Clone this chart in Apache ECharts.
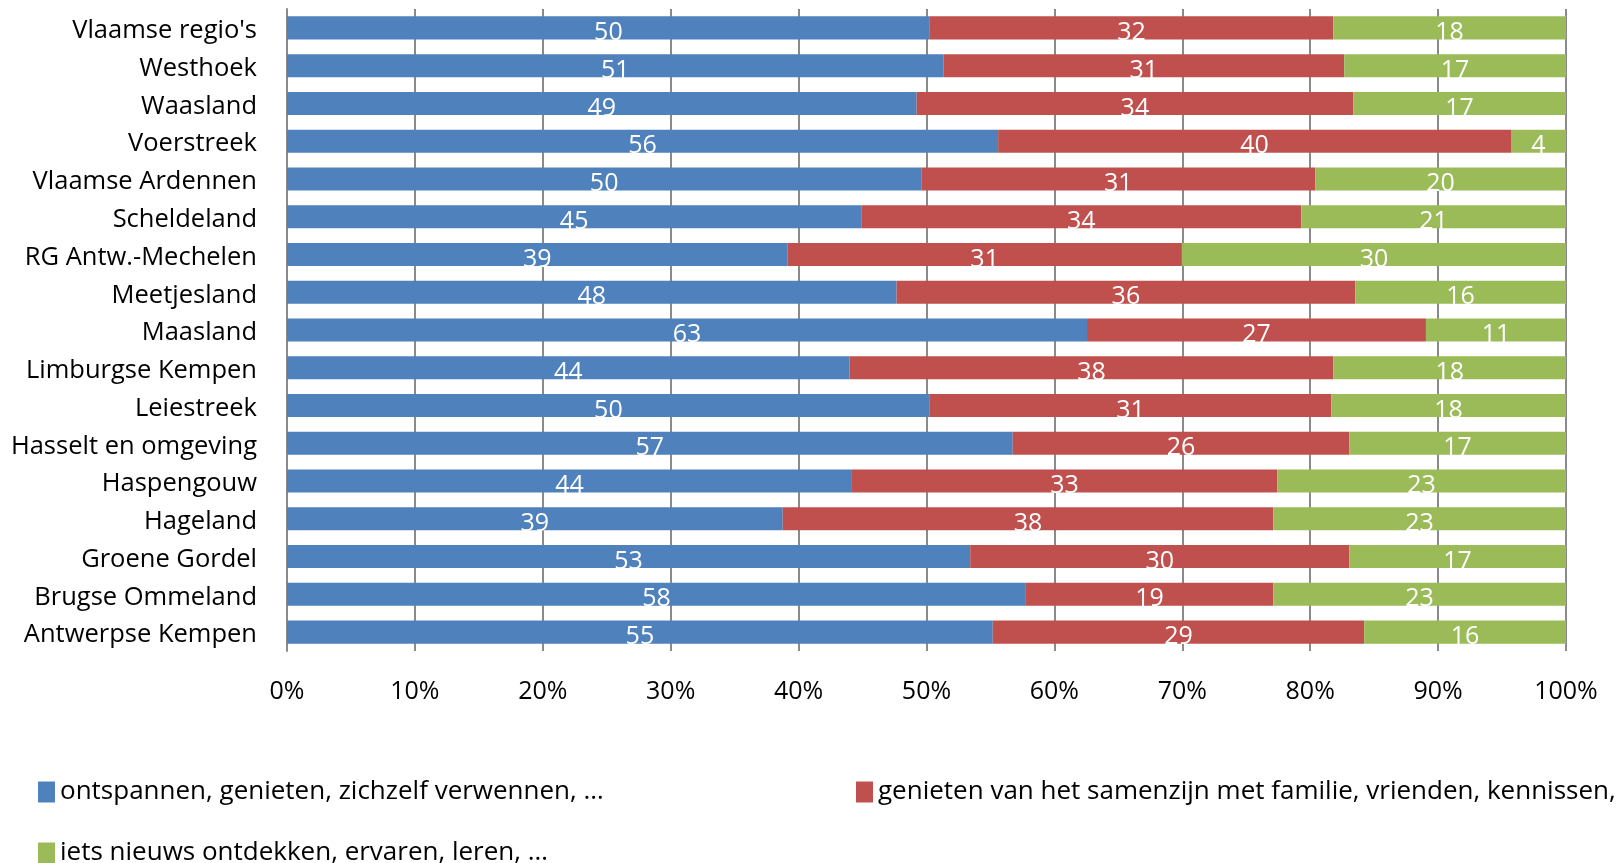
<!DOCTYPE html>
<html>
<head>
<meta charset="utf-8">
<script src="https://cdn.jsdelivr.net/npm/echarts@6/dist/echarts.min.js"></script>
<style>
html,body{margin:0;padding:0;background:#fff;}
#chart{width:1622px;height:863px;}
</style>
</head>
<body>
<div id="chart"></div>
<script>
// Categories, top to bottom
const categories = [
  "Vlaamse regio's", "Westhoek", "Waasland", "Voerstreek", "Vlaamse Ardennen",
  "Scheldeland", "RG Antw.-Mechelen", "Meetjesland", "Maasland", "Limburgse Kempen",
  "Leiestreek", "Hasselt en omgeving", "Haspengouw", "Hageland", "Groene Gordel",
  "Brugse Ommeland", "Antwerpse Kempen"
];
const seriesNames = [
  "ontspannen, genieten, zichzelf verwennen, …",
  "genieten van het samenzijn met familie, vrienden, kennissen,",
  "iets nieuws ontdekken, ervaren, leren, …"
];
const ontspannen = [50.26, 51.32, 49.23, 55.6, 49.59, 44.9, 39.12, 47.66, 62.55, 43.98, 50.26, 56.74, 44.17, 38.76, 53.42, 57.77, 55.18];
const samenzijn  = [31.54, 31.34, 34.13, 40.1, 30.80, 34.4, 30.85, 35.86, 26.5, 37.84, 31.38, 26.31, 33.25, 38.35, 29.63, 19.34, 29.04];
const nieuws     = [18.20, 17.34, 16.64, 4.3, 19.61, 20.7, 30.03, 16.48, 10.95, 18.18, 18.36, 16.95, 22.58, 22.89, 16.95, 22.89, 15.78];
const xTicks = { min: 0, max: 100, interval: 10 };
const colors = ['#4F81BD', '#C0504D', '#9BBB59'];

const FONT = 'Open Sans';
const chart = echarts.init(document.getElementById('chart'));

function mkSeries(name, data, color) {
  return {
    name: name, type: 'bar', stack: 'total', data: data,
    barCategoryGap: '39%',
    itemStyle: { color: color },
    label: {
      show: true, position: 'inside', color: '#fff',
      fontFamily: FONT, fontSize: 25, offset: [0, 5],
      formatter: p => Math.round(p.value)
    },
    emphasis: { disabled: true },
    animation: false
  };
}

function mkLegend(name, left, top) {
  return {
    data: [name], left: left, top: top, orient: 'horizontal',
    icon: 'rect', itemWidth: 17, itemHeight: 21, itemGap: 0,
    textStyle: { fontFamily: FONT, fontSize: 26, color: '#000' },
    selectedMode: false
  };
}

chart.setOption({
  backgroundColor: '#fff',
  animation: false,
  grid: { left: 287, right: 56, top: 9, bottom: 212, containLabel: false, outerBoundsMode: 'none' },
  legend: [
    mkLegend(seriesNames[0], 33, 774),
    mkLegend(seriesNames[1], 851, 774),
    mkLegend(seriesNames[2], 33, 835)
  ],
  xAxis: {
    type: 'value', min: xTicks.min, max: xTicks.max, interval: xTicks.interval,
    axisLine: { show: false }, axisTick: { show: false },
    axisLabel: { formatter: '{value}%', fontFamily: FONT, fontSize: 25, color: '#000', margin: 28 },
    splitLine: { show: true, lineStyle: { color: '#8a8a8a', width: 2 } }
  },
  yAxis: {
    type: 'category', data: categories, inverse: true,
    axisLine: { show: true, lineStyle: { color: '#8a8a8a', width: 2 } },
    axisTick: { show: false },
    axisLabel: { fontFamily: FONT, fontSize: 25.5, color: '#000', margin: 30, verticalAlign: 'top', lineHeight: 6 }
  },
  series: [
    mkSeries(seriesNames[0], ontspannen, colors[0]),
    mkSeries(seriesNames[1], samenzijn, colors[1]),
    mkSeries(seriesNames[2], nieuws, colors[2])
  ]
});
</script>
</body>
</html>
